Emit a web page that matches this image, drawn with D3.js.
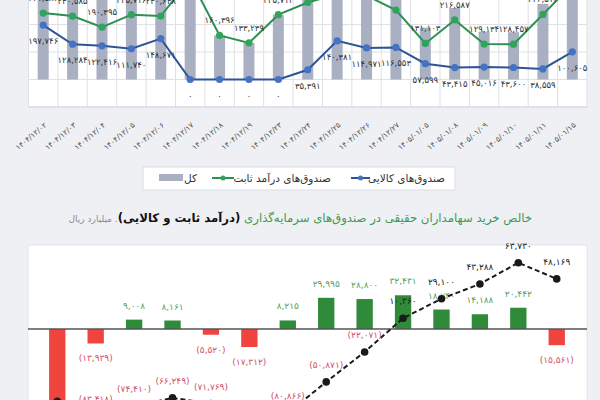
<!DOCTYPE html>
<html><head><meta charset="utf-8">
<script src="https://cdn.jsdelivr.net/npm/d3@7"></script>
<style>
html,body{margin:0;padding:0;background:#eef0f4;}
svg{display:block;}
text{font-family:"DejaVu Sans",sans-serif;}
</style></head><body>
<svg id="c" width="600" height="400"></svg>
<script>
// ---------- top chart data ----------
const dates = ["1404/12/02","1404/12/03","1404/12/04","1404/12/05","1404/12/06","1404/12/17","1404/12/18","1404/12/19","1404/12/23","1404/12/24","1404/12/25","1404/12/26","1404/12/27","1405/01/05","1405/01/08","1405/01/09","1405/01/10","1405/01/11","1405/01/15"];
const fixedIncome = [241582,230585,190395,235716,230648,365270,160396,133239,235714,280126,310452,305118,252306,131103,216587,129134,128457,236512,345204];
const commodity = [197746,128284,122416,111740,148671,0,0,0,0,35391,140381,114971,116553,57599,43415,45016,43600,38559,100605];
const totalFunds = [439328,358869,312811,347456,379319,365270,160396,133239,235714,315517,450833,420089,368859,188702,260002,174150,172057,275071,445809];
const topGridTicks = [-100000,0,100000,200000,300000];
const legendNames = ["صندوق‌های کالایی","صندوق‌های درآمد ثابت","کل"];

// ---------- bottom chart data ----------
const flowCats = ["1","2","3","4","5","6","7","8","9","10","11","12","13","14"];
const netBuy = [-69479,-13939,9008,8161,-5520,-17312,8215,29995,28800,32431,18740,14188,20442,-15561];
const cumulative = [-69479,-83418,-74410,-66249,-71769,-89081,-80866,-50871,-22071,10360,29100,43288,63730,48169];
const titleParts = ["خالص خرید سهامداران حقیقی در صندوق‌های سرمایه‌گذاری ","(درآمد ثابت و کالایی)",". میلیارد ریال"];

const fa = s => String(s).replace(/[0-9]/g, d => "۰۱۲۳۴۵۶۷۸۹"[+d]);
const fmt = v => fa(d3.format(",")(Math.abs(v)));
const fmtNeg = v => v < 0 ? "(" + fmt(v) + ")" : fmt(v);

const svg = d3.select("#c");

// ================= TOP CHART =================
const x1 = d3.scaleBand().domain(dates).range([28.5, 587]).padding(0);
const y1 = d3.scaleLinear().domain([-100000, 300000]).range([107, -3]);
const topG = svg.append("g");
topG.append("rect").attr("x", 28.5).attr("y", -10).attr("width", 587 - 28.5).attr("height", 117).attr("fill", "#ffffff");
topG.selectAll("line.hg").data(topGridTicks).join("line")
  .attr("x1", 28.5).attr("x2", 587).attr("y1", d => y1(d)).attr("y2", d => y1(d))
  .attr("stroke", "#dfe1e6").attr("stroke-width", 1);
topG.selectAll("line.vg").data(dates.concat(["end"])).join("line")
  .attr("x1", (d, i) => 28.5 + i * x1.step()).attr("x2", (d, i) => 28.5 + i * x1.step())
  .attr("y1", -10).attr("y2", 107).attr("stroke", "#dfe1e6");
topG.append("line").attr("x1", 28.5).attr("x2", 587).attr("y1", 107).attr("y2", 107).attr("stroke", "#d4d7dd");

const bw1 = 11;
topG.selectAll("rect.bar").data(totalFunds).join("rect")
  .attr("x", (d, i) => x1(dates[i]) + x1.bandwidth() / 2 - bw1 / 2)
  .attr("width", bw1)
  .attr("y", d => y1(d)).attr("height", d => y1(0) - y1(d))
  .attr("fill", "#a9b0c2");

const cx1 = i => x1(dates[i]) + x1.bandwidth() / 2;
const line1 = d3.line().x((d, i) => cx1(i)).y(d => y1(d));
topG.append("path").datum(commodity).attr("d", line1).attr("fill", "none").attr("stroke", "#2d5596").attr("stroke-width", 2);
topG.append("path").datum(fixedIncome).attr("d", line1).attr("fill", "none").attr("stroke", "#2b9150").attr("stroke-width", 2);
topG.selectAll("circle.b").data(commodity).join("circle")
  .attr("cx", (d, i) => cx1(i)).attr("cy", d => y1(d)).attr("r", 3.6).attr("fill", "#4472c4");
topG.selectAll("circle.g").data(fixedIncome).join("circle")
  .attr("cx", (d, i) => cx1(i)).attr("cy", d => y1(d)).attr("r", 3.6).attr("fill", "#2ea55a");
topG.selectAll("text.bl").data(commodity).join("text")
  .attr("x", (d, i) => cx1(i)).attr("y", d => y1(d) + 19)
  .attr("text-anchor", "middle").attr("font-size", 8.5).attr("fill", "#333")
  .text(d => fmt(d));
topG.selectAll("text.gl").data(fixedIncome).join("text")
  .attr("x", (d, i) => cx1(i)).attr("y", d => y1(d) - 12)
  .attr("text-anchor", "middle").attr("font-size", 8.5).attr("fill", "#333")
  .text(d => fmt(d));

topG.selectAll("text.xl").data(dates).join("text")
  .attr("transform", (d, i) => `translate(${cx1(i) + 4},${126}) rotate(-40)`)
  .attr("text-anchor", "end").attr("font-size", 7.6).attr("fill", "#555")
  .text(d => fa(d));

// legend
const lg = svg.append("g");
lg.append("rect").attr("x", 143).attr("y", 167).attr("width", 312).attr("height", 23)
  .attr("fill", "#ffffff").attr("stroke", "#dadde3");
const legText = (x, t) => lg.append("text").attr("x", x).attr("y", 182).attr("font-size", 10.5)
  .attr("fill", "#333").attr("direction", "rtl").attr("text-anchor", "start").text(t);
legText(445, legendNames[0]);
lg.append("line").attr("x1", 351).attr("x2", 370).attr("y1", 178).attr("y2", 178).attr("stroke", "#2d5596").attr("stroke-width", 2);
lg.append("circle").attr("cx", 360.5).attr("cy", 178).attr("r", 2.5).attr("fill", "#4472c4");
legText(331, legendNames[1]);
lg.append("line").attr("x1", 212).attr("x2", 234).attr("y1", 178).attr("y2", 178).attr("stroke", "#2b9150").attr("stroke-width", 2);
lg.append("circle").attr("cx", 223).attr("cy", 178).attr("r", 2.5).attr("fill", "#2ea55a");
legText(197, legendNames[2]);
lg.append("rect").attr("x", 159).attr("y", 174).attr("width", 24).attr("height", 7).attr("fill", "#a9b0c2");

// ================= BOTTOM CHART =================
const title = svg.append("text").attr("x", 532).attr("y", 222).attr("direction", "rtl")
  .attr("text-anchor", "start").attr("font-size", 13);
title.append("tspan").attr("fill", "#3f9a52").text(titleParts[0]);
title.append("tspan").attr("fill", "#111").attr("font-weight", "bold").text(titleParts[1]);
const lastT = title.append("tspan").attr("fill", "#8a8a8a").attr("font-size", 10).text(titleParts[2]);
const tl = title.node().getComputedTextLength();
if (tl > 0) {
  const f = 13 * 464 / tl;
  title.attr("font-size", f);
  lastT.attr("font-size", f * 0.77);
}

const x2 = d3.scaleBand().domain(flowCats).range([27, 587]).padding(0.575);
const y2 = d3.scaleLinear().domain([-100000, 80000]).range([433, 245.8]);
const bot = svg.append("g");
bot.append("rect").attr("x", 28).attr("y", 245).attr("width", 559).attr("height", 170)
  .attr("fill", "#ffffff").attr("stroke", "#e2e4e8");
bot.selectAll("rect.nb").data(netBuy).join("rect")
  .attr("x", (d, i) => x2(flowCats[i])).attr("width", x2.bandwidth())
  .attr("y", d => Math.min(y2(d), y2(0))).attr("height", d => Math.abs(y2(d) - y2(0)))
  .attr("fill", d => d >= 0 ? "#2f8a3a" : "#f0443f");
bot.append("line").attr("x1", 28).attr("x2", 587).attr("y1", y2(0)).attr("y2", y2(0))
  .attr("stroke", "#555").attr("stroke-width", 1.5);
const cx2 = i => x2(flowCats[i]) + x2.bandwidth() / 2;
bot.selectAll("text.nbl").data(netBuy).join("text")
  .attr("x", (d, i) => cx2(i)).attr("y", d => d >= 0 ? y2(d) - 11 : y2(d) + 18)
  .attr("text-anchor", "middle").attr("font-size", 9)
  .attr("fill", d => d >= 0 ? "#55a063" : "#d34f68")
  .text(d => fmtNeg(d));
bot.append("path").datum(cumulative)
  .attr("d", d3.line().x((d, i) => cx2(i)).y(d => y2(d)))
  .attr("fill", "none").attr("stroke", "#1a1a1a").attr("stroke-width", 2).attr("stroke-dasharray", "5,3");
bot.selectAll("circle.cm").data(cumulative).join("circle")
  .attr("cx", (d, i) => cx2(i)).attr("cy", d => y2(d)).attr("r", 3.8).attr("fill", "#1a1a1a");
// the first running total coincides with the first bar and carries no separate label
bot.selectAll("text.cml").data(cumulative.slice(1)).join("text")
  .attr("x", (d, i) => cx2(i + 1)).attr("y", d => y2(d) - 14)
  .attr("text-anchor", "middle").attr("font-size", 9)
  .attr("fill", d => d >= 0 ? "#222" : "#d34f68")
  .text(d => fmtNeg(d));
</script>
</body></html>
